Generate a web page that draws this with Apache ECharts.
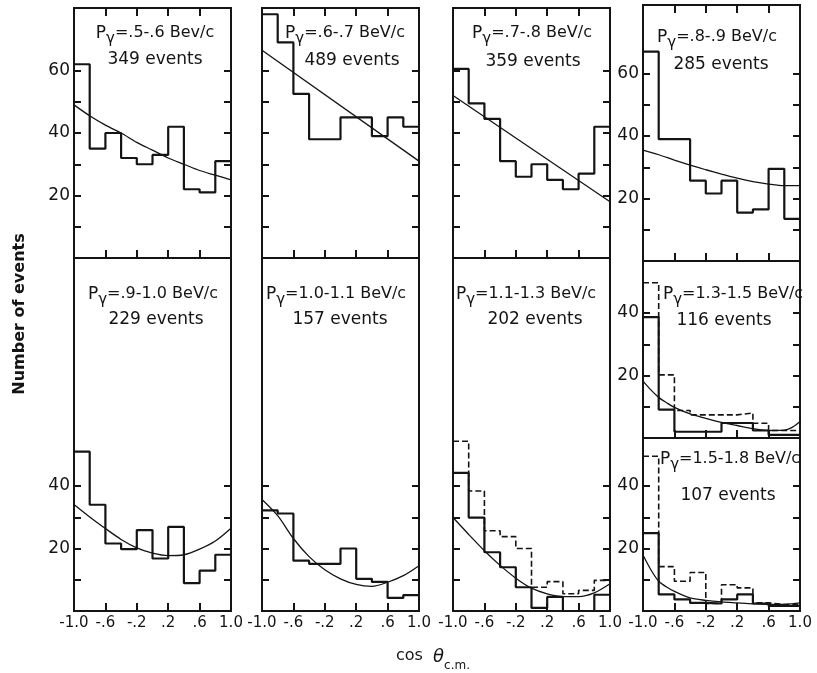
<!DOCTYPE html>
<html><head><meta charset="utf-8">
<script src="https://cdn.jsdelivr.net/npm/echarts@6/dist/echarts.min.js"></script>
<style>html,body{margin:0;padding:0;background:#fff}#c{width:817px;height:673px}</style>
</head><body><div id="c"></div>
<script>
// ---------- data ----------
const BIN_EDGES = [-1.0,-0.8,-0.6,-0.4,-0.2,0,0.2,0.4,0.6,0.8,1.0];
const FIT_X = [-1.0,-0.8,-0.6,-0.4,-0.2,0,0.2,0.4,0.6,0.8,1.0];
const FIT_X_FINE = [-1.0,-0.9,-0.8,-0.7,-0.6,-0.4,-0.2,0,0.2,0.4,0.6,0.8,0.9,1.0];
const LINE_X = [-1.0, 1.0];
const X_TICKS = [-0.6,-0.2,0.2,0.6];
const X_LABELS = [-1.0,-0.6,-0.2,0.2,0.6,1.0];
const Y_TICKS_TOP = [10,20,30,40,50,60];
const Y_LABELS_TOP = [20,40,60];
const Y_TICKS_LOW = [10,20,30,40];
const Y_LABELS_LOW = [20,40];

const MOMENTA = ['=.5-.6 Bev/c','=.6-.7 BeV/c','=.7-.8 BeV/c','=.8-.9 BeV/c',
                 '=.9-1.0 BeV/c','=1.0-1.1 BeV/c','=1.1-1.3 BeV/c','=1.3-1.5 BeV/c','=1.5-1.8 BeV/c'];
const EVENTS = ['349 events','489 events','359 events','285 events',
                '229 events','157 events','202 events','116 events','107 events'];

const hist05 = [62, 35, 40, 32, 30, 33, 42, 22, 21, 31];
const fit05  = [49, 45.5, 42.5, 40, 37, 34.5, 32, 30, 28, 26.5, 25];
const hist06 = [78, 69, 52.5, 38, 38, 45, 45, 39, 45, 42];
const fit06  = [66.5, 31];
const hist07 = [60.5, 49.5, 44.5, 31, 26, 30, 25, 22, 27, 42];
const fit07  = [52, 18];
const hist08 = [67, 39, 39, 25.7, 21.6, 25.7, 15.5, 16.5, 29.5, 13.5];
const fit08  = [35.5, 34, 32.3, 30.7, 29.2, 27.8, 26.5, 25.4, 24.6, 24.1, 24.1];
const hist09 = [51, 34, 21.6, 19.8, 25.9, 16.8, 26.9, 8.9, 12.9, 18];
const fit09  = [34.1, 30.1, 26.4, 22.9, 20.2, 18.5, 17.7, 18, 19.8, 22.4, 26.5];
const hist10 = [32.2, 31.2, 16.1, 15.1, 15.1, 20, 10.3, 9.3, 4.2, 5.1];
const fit10  = [35.7, 30.5, 23.2, 17.4, 13.2, 10.3, 8.5, 7.9, 9.2, 11.3, 14.5];
const hist11 = [44.2, 29.9, 18.8, 14, 7.6, 1, 4.5, 0, 0, 5.2];
const dash11 = [54.3, 38.4, 25.7, 23.8, 20, 7.6, 9.4, 5.5, 6.6, 9.8];
const fit11  = [29.9, 24.5, 19.3, 14.6, 10.5, 7.3, 5.5, 4.6, 4.6, 5.8, 8.7];
const hist13 = [38.7, 9.1, 2, 2, 2, 4.8, 4.8, 2.4, 1, 1];
const dash13 = [49.7, 20.2, 8.8, 7.4, 7.4, 7.4, 8, 4.7, 2.4, 2.4];
const fit13  = [18.2, 15.4, 13, 11.3, 9.8, 7.7, 6.3, 5, 4, 3, 2.4, 2.5, 3.4, 5.3];
const hist15 = [24.9, 5.3, 3.7, 2.6, 2.4, 3.7, 5.3, 2.4, 1.6, 1.6];
const dash15 = [49.5, 14.2, 9.5, 12.3, 2.4, 8.4, 7.4, 2.6, 2.1, 2.1];
const fit15  = [17.9, 13.2, 9.5, 7.7, 6.3, 4.2, 3.4, 2.9, 2.6, 2.3, 2.1, 2.1, 2.3, 2.6];

// ---------- layout ----------
const W = 157;
const FONT = 'DejaVu Sans, sans-serif';
const INK = '#141414';
const PANELS = [
  {left:74,  top:8,   h:250, hist:hist05, dash:null,   fx:FIT_X,  fy:fit05, yt:Y_TICKS_TOP, yl:Y_LABELS_TOP, topTicks:true,  xl:false, t1:[155,36], t2:[155,60]},
  {left:262, top:8,   h:250, hist:hist06, dash:null,   fx:LINE_X, fy:fit06, yt:Y_TICKS_TOP, yl:null,         topTicks:true,  xl:false, t1:[345,36], t2:[352,61]},
  {left:453, top:8,   h:250, hist:hist07, dash:null,   fx:LINE_X, fy:fit07, yt:Y_TICKS_TOP, yl:null,         topTicks:true,  xl:false, t1:[532,36], t2:[533,62]},
  {left:643, top:5,   h:256, hist:hist08, dash:null,   fx:FIT_X,  fy:fit08, yt:Y_TICKS_TOP, yl:Y_LABELS_TOP, topTicks:true,  xl:false, t1:[717,40], t2:[721,65]},
  {left:74,  top:258, h:353, hist:hist09, dash:null,   fx:FIT_X,  fy:fit09, yt:Y_TICKS_LOW, yl:Y_LABELS_LOW, topTicks:false, xl:true,  t1:[153,297], t2:[156,320]},
  {left:262, top:258, h:353, hist:hist10, dash:null,   fx:FIT_X,  fy:fit10, yt:Y_TICKS_LOW, yl:null,         topTicks:false, xl:true,  t1:[336,297], t2:[340,320]},
  {left:453, top:258, h:353, hist:hist11, dash:dash11, fx:FIT_X,  fy:fit11, yt:Y_TICKS_LOW, yl:null,         topTicks:false, xl:true,  t1:[526,297], t2:[535,320]},
  {left:643, top:261, h:177, hist:hist13, dash:dash13, fx:FIT_X_FINE, fy:fit13, yt:Y_TICKS_LOW, yl:Y_LABELS_LOW, topTicks:false, xl:false, t1:[733,297], t2:[724,321]},
  {left:643, top:438, h:173, hist:hist15, dash:dash15, fx:FIT_X_FINE, fy:fit15, yt:Y_TICKS_LOW, yl:Y_LABELS_LOW, topTicks:false, xl:true,  t1:[730,462], t2:[728,496]}
];
const SCALE = 3.125; // px per event

const grids = [], xAxes = [], yAxes = [], series = [], graphics = [];
const fmtX = v => Number(v).toFixed(1).replace('0.', '.');
const tickStyle = {color: INK, width: 2};
const noLine = {show:false, onZero:false};

PANELS.forEach((p, i) => {
  const ymax = p.h / SCALE;
  grids.push({left:p.left, top:p.top, width:W, height:p.h, show:true,
    borderColor:INK, borderWidth:2, backgroundColor:'transparent'});
  const xb = xAxes.length;
  xAxes.push({gridIndex:i, type:'value', min:-1, max:1, position:'bottom',
    axisLine:noLine, splitLine:{show:false},
    axisTick:{show:true, inside:true, length:8, customValues:X_TICKS, lineStyle:tickStyle},
    axisLabel:{show:p.xl, customValues:X_LABELS, formatter:fmtX, color:INK,
      fontFamily:FONT, fontSize:15, margin:5}});
  xAxes.push({gridIndex:i, type:'value', min:-1, max:1, position:'top',
    axisLine:noLine, splitLine:{show:false},
    axisTick:{show:p.topTicks, inside:true, length:8, customValues:X_TICKS, lineStyle:tickStyle},
    axisLabel:{show:false}});
  const yl = yAxes.length;
  yAxes.push({gridIndex:i, type:'value', min:0, max:ymax, position:'left',
    axisLine:noLine, splitLine:{show:false},
    axisTick:{show:true, inside:true, length:7, customValues:p.yt, lineStyle:tickStyle},
    axisLabel:{show:!!p.yl, customValues:p.yl || [], color:INK, fontFamily:FONT, fontSize:17, margin:4}});
  yAxes.push({gridIndex:i, type:'value', min:0, max:ymax, position:'right',
    axisLine:noLine, splitLine:{show:false},
    axisTick:{show:true, inside:true, length:7, customValues:p.yt, lineStyle:tickStyle},
    axisLabel:{show:false}});
  const stepData = arr => BIN_EDGES.map((e, k) => [e, arr[Math.min(k, arr.length - 1)]]);
  if (p.dash) {
    series.push({type:'line', xAxisIndex:xb, yAxisIndex:yl, data:stepData(p.dash), step:'end',
      symbol:'none', silent:true, lineStyle:{color:INK, width:1.6, type:[6,3]}});
  }
  series.push({type:'line', xAxisIndex:xb, yAxisIndex:yl, data:stepData(p.hist), step:'end',
    symbol:'none', silent:true, lineStyle:{color:INK, width:2.2}});
  series.push({type:'line', xAxisIndex:xb, yAxisIndex:yl, data:p.fx.map((x, k) => [x, p.fy[k]]),
    smooth:0.3, symbol:'none', silent:true, lineStyle:{color:INK, width:1.3}});
  graphics.push({type:'text', x:p.t1[0], y:p.t1[1], style:{
    text:'{p|P}{g|γ}{t|' + MOMENTA[i] + '}', align:'center', verticalAlign:'middle',
    rich:{
      p:{fontFamily:FONT, fontSize:17, lineHeight:22, verticalAlign:'top', fill:INK},
      g:{fontFamily:FONT, fontSize:15, lineHeight:22, verticalAlign:'bottom', fill:INK},
      t:{fontFamily:FONT, fontSize:16, lineHeight:22, verticalAlign:'top', fill:INK}
    }}});
  graphics.push({type:'text', x:p.t2[0], y:p.t2[1], style:{
    text:EVENTS[i], align:'center', verticalAlign:'middle',
    fontFamily:FONT, fontSize:17, fill:INK}});
});

graphics.push({type:'text', x:20, y:314, rotation:Math.PI/2, style:{
  text:'Number of events', align:'center', verticalAlign:'middle',
  fontFamily:FONT, fontSize:16, fontWeight:'bold', fill:INK}});
graphics.push({type:'text', x:433, y:660, style:{
  text:'{c|cos  }{th|θ}{s|c.m.}', align:'center', verticalAlign:'middle',
  rich:{
    c:{fontFamily:FONT, fontSize:16, lineHeight:24, verticalAlign:'top', fill:INK},
    th:{fontFamily:FONT, fontSize:18, fontStyle:'italic', lineHeight:24, verticalAlign:'top', fill:INK},
    s:{fontFamily:FONT, fontSize:12, lineHeight:24, verticalAlign:'bottom', fill:INK}
  }}});

const chart = echarts.init(document.getElementById('c'), null, {renderer:'canvas'});
chart.setOption({
  animation:false,
  backgroundColor:'#fff',
  grid:grids, xAxis:xAxes, yAxis:yAxes, series:series, graphic:graphics
});
</script></body></html>
